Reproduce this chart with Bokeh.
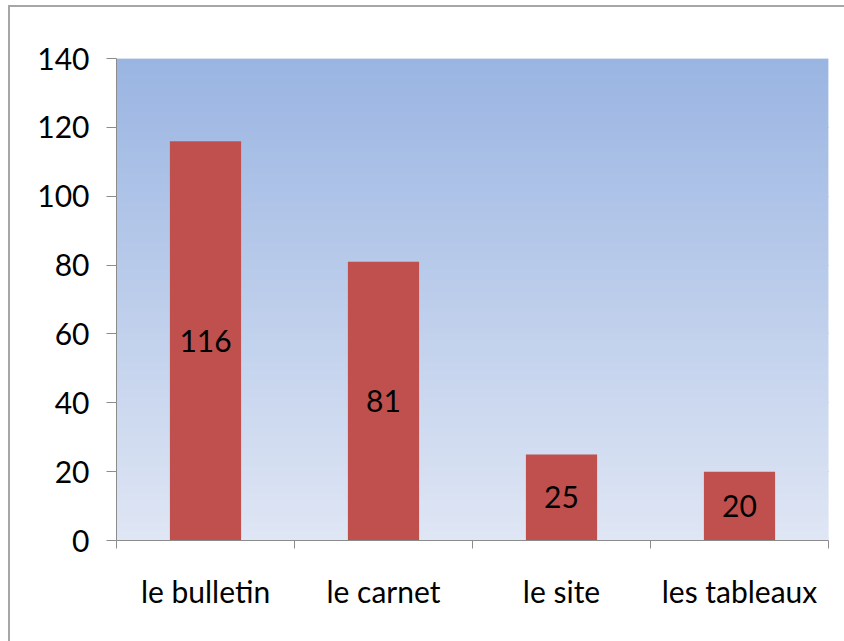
import numpy as np
from bokeh.plotting import figure
from bokeh.models import ColumnDataSource, FixedTicker, Range1d
from bokeh.embed import file_html
from bokeh.resources import INLINE
from bokeh.core.properties import value

categories = ["le bulletin", "le carnet", "le site", "les tableaux"]
counts = [116, 81, 25, 20]
y_ticks = [0, 20, 40, 60, 80, 100, 120, 140]

Y_MAX = 140
FONT = "Lato"
FS = "30px"

p = figure(width=834, height=634, output_backend="svg", toolbar_location=None,
           x_range=Range1d(-0.5, len(categories) - 0.5), y_range=Range1d(0, Y_MAX),
           frame_width=712, frame_height=482,
           min_border_left=106, min_border_top=51, min_border_right=16, min_border_bottom=101)
p.styles = {"border-left": "2px solid #a6a6a6", "border-top": "2px solid #a6a6a6",
            "margin-left": "8px", "margin-top": "5px"}
p.outline_line_color = None
p.background_fill_color = "#dfe6f4"
p.border_fill_color = "white"

# gradient background of the plot area (style only)
top = np.array([0x9a, 0xb5, 0xe2], dtype=float)
bot = np.array([0xdf, 0xe6, 0xf4], dtype=float)
n = 256
img = np.zeros((n, 2), dtype=np.uint32)
view = img.view(dtype=np.uint8).reshape((n, 2, 4))
for i in range(n):
    t = i / (n - 1)
    c = bot + (top - bot) * t
    view[i, :, 0] = int(round(c[0]))
    view[i, :, 1] = int(round(c[1]))
    view[i, :, 2] = int(round(c[2]))
    view[i, :, 3] = 255
p.image_rgba(image=[img], x=-0.5, y=0, dw=len(categories), dh=Y_MAX)

xs = list(range(len(categories)))
src = ColumnDataSource(dict(x=xs, top=counts, mid=[c / 2 for c in counts], lab=[str(c) for c in counts]))
p.vbar(x="x", top="top", width=0.4, source=src, fill_color="#c0504d", line_color=None)
p.text(x="x", y="mid", text="lab", source=src, text_align="center", text_baseline="middle",
       text_font=value(FONT), text_font_size=FS, text_color="black")

# grid
p.xgrid.visible = False
p.ygrid.ticker = FixedTicker(ticks=y_ticks)
p.ygrid.grid_line_color = "#808080"
p.ygrid.grid_line_width = 1
p.ygrid.level = "underlay"

# y axis
p.yaxis.ticker = FixedTicker(ticks=y_ticks)
p.yaxis.axis_line_color = "#8c8c8c"
p.yaxis.major_tick_line_color = "#8c8c8c"
p.yaxis.major_tick_out = 10
p.yaxis.major_tick_in = 0
p.yaxis.minor_tick_line_color = None
p.yaxis.major_label_standoff = 17
p.yaxis.major_label_text_font = FONT
p.yaxis.major_label_text_font_size = FS
p.yaxis.major_label_text_color = "black"

# x axis: labels at centers, ticks at boundaries
bounds = [i - 0.5 for i in range(len(categories) + 1)]
p.xaxis.ticker = FixedTicker(ticks=xs, minor_ticks=bounds)
p.xaxis.major_label_overrides = {i: c for i, c in enumerate(categories)}
p.xaxis.major_tick_line_color = None
p.xaxis.major_tick_out = 0
p.xaxis.major_tick_in = 0
p.xaxis.minor_tick_line_color = "#8c8c8c"
p.xaxis.minor_tick_out = 8
p.xaxis.minor_tick_in = 0
p.xaxis.axis_line_color = "#8c8c8c"
p.xaxis.major_label_standoff = 24
p.xaxis.major_label_text_font = FONT
p.xaxis.major_label_text_font_size = FS
p.xaxis.major_label_text_color = "black"

open("out.html", "w").write(file_html(p, INLINE))
